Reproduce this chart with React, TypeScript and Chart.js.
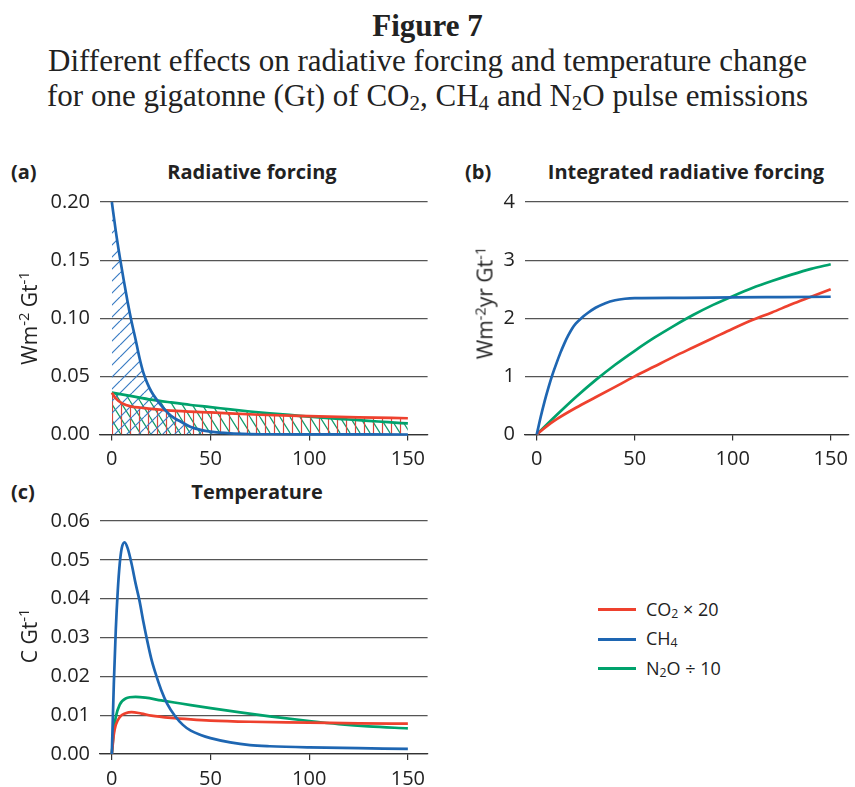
import React, { useEffect, useRef } from "react";
import { Chart, registerables } from "chart.js";
Chart.register(...registerables);

const FONT = "'Open Sans', 'Noto Sans', sans-serif";
const SERIF = "'Liberation Serif', 'DejaVu Serif', serif";

const RED = "#ee412e";
const BLUE = "#1e66b2";
const GREEN = "#00a26c";

const X_TICKS = [0, 50, 100, 150];

// (a) Radiative forcing (W m-2 Gt-1)
const rfCo2Years = [0, 2, 5, 10, 15, 20, 30, 50, 75, 100, 125, 150];
const rfCo2 = [0.036, 0.031, 0.027, 0.024, 0.023, 0.022, 0.0205, 0.019, 0.017, 0.0158, 0.0148, 0.014];
const rfCh4Years = [0, 2, 4, 6, 8, 10, 12, 14, 16, 18, 20, 25, 30, 35, 40, 45, 50, 60, 70, 80, 100, 150];
const rfCh4 = [0.2, 0.175, 0.153, 0.133, 0.114, 0.097, 0.082, 0.066, 0.053, 0.044, 0.037, 0.025, 0.016, 0.011, 0.0065, 0.004, 0.0025, 0.001, 0.0004, 0.0002, 0.0001, 0];
const rfN2oYears = [0, 10, 20, 30, 40, 50, 60, 70, 80, 90, 100, 110, 120, 130, 140, 150];
const rfN2o = [0.036, 0.033, 0.03, 0.0276, 0.0254, 0.0236, 0.0216, 0.0198, 0.0182, 0.0168, 0.0154, 0.014, 0.0129, 0.0118, 0.0106, 0.0095];

// (b) Integrated radiative forcing (W m-2 yr Gt-1)
const irfCo2Years = [0, 5, 10, 20, 30, 40, 50, 60, 70, 80, 90, 100, 110, 120, 130, 140, 150];
const irfCo2 = [0, 0.14, 0.26, 0.46, 0.64, 0.82, 1.0, 1.17, 1.34, 1.5, 1.66, 1.82, 1.97, 2.1, 2.24, 2.37, 2.5];
const irfCh4Years = [0, 2, 4, 6, 8, 10, 12, 14, 16, 18, 20, 23, 26, 30, 35, 40, 45, 50, 75, 100, 125, 150];
const irfCh4 = [0, 0.3, 0.57, 0.81, 1.03, 1.22, 1.4, 1.56, 1.7, 1.82, 1.91, 2.01, 2.09, 2.18, 2.26, 2.31, 2.335, 2.345, 2.35, 2.36, 2.365, 2.37];
const irfN2oYears = [0, 10, 20, 30, 40, 50, 60, 70, 80, 90, 100, 110, 120, 130, 140, 150];
const irfN2o = [0, 0.33, 0.645, 0.935, 1.2, 1.44, 1.665, 1.87, 2.06, 2.23, 2.38, 2.52, 2.64, 2.75, 2.85, 2.93];

// (c) Temperature (C Gt-1)
const tCo2Years = [0, 1, 2, 4, 7, 10, 15, 20, 30, 40, 50, 70, 100, 125, 150];
const tCo2 = [0, 0.005, 0.0075, 0.0095, 0.0105, 0.0108, 0.0104, 0.0099, 0.0093, 0.0089, 0.0086, 0.0083, 0.0081, 0.0079, 0.0078];
const tCh4Years = [0, 1, 2, 3, 4, 5, 6.5, 8, 10, 12, 14, 16, 18, 20, 22, 25, 28, 32, 36, 40, 45, 50, 60, 70, 80, 100, 125, 150];
const tCh4 = [0, 0.018, 0.032, 0.042, 0.049, 0.053, 0.0545, 0.053, 0.049, 0.044, 0.0395, 0.034, 0.029, 0.0245, 0.021, 0.0165, 0.013, 0.0098, 0.0075, 0.006, 0.0049, 0.0041, 0.003, 0.0023, 0.002, 0.0017, 0.0015, 0.0013];
const tN2oYears = [0, 1, 2, 4, 7, 12, 17, 25, 35, 50, 65, 80, 100, 115, 130, 150];
const tN2o = [0, 0.006, 0.0095, 0.0127, 0.0143, 0.0147, 0.0145, 0.0138, 0.013, 0.0118, 0.0107, 0.0097, 0.0085, 0.0077, 0.0071, 0.0066];

function toPoints(xs: number[], ys: number[]) {
  return xs.map((x, i) => ({ x, y: ys[i] }));
}

function makeHatch(color: string, kind: "fwd" | "back" | "vert"): CanvasPattern | string {
  const c = document.createElement("canvas");
  let w = 12;
  let h = 12;
  if (kind === "back") { w = 10; h = 16; }
  if (kind === "vert") { w = 9; h = 9; }
  c.width = w;
  c.height = h;
  const g = c.getContext("2d");
  if (!g) return color;
  g.strokeStyle = color;
  g.lineWidth = 1.2;
  g.beginPath();
  if (kind === "vert") {
    g.moveTo(w / 2, 0);
    g.lineTo(w / 2, h);
  } else {
    for (let k = -1; k <= 1; k++) {
      if (kind === "fwd") {
        g.moveTo(k * w, h);
        g.lineTo(k * w + w, 0);
      } else {
        g.moveTo(k * w, 0);
        g.lineTo(k * w + w, h);
      }
    }
  }
  g.stroke();
  const p = g.createPattern(c, "repeat");
  return p || color;
}

const PAD_TOP = 25;

type PanelProps = {
  left: number;
  top: number;
  width: number;
  height: number;
  padRight: number;
  xMax: number;
  xAxisHeight: number;
  yMax: number;
  yStep: number;
  yDecimals: number;
  build: () => any[];
};

function Panel(props: PanelProps) {
  const ref = useRef<HTMLCanvasElement>(null);
  useEffect(() => {
    if (!ref.current) return;
    const chart = new Chart(ref.current, {
      type: "line",
      data: { datasets: props.build() },
      options: {
        responsive: false,
        animation: false,
        layout: { padding: { top: PAD_TOP, right: props.padRight, bottom: 0, left: 0 } },
        plugins: {
          legend: { display: false },
          tooltip: { enabled: false },
          filler: { drawTime: "beforeDatasetsDraw", propagate: false },
        },
        elements: {
          point: { radius: 0 },
          line: { borderWidth: 2.7, cubicInterpolationMode: "monotone" },
        },
        scales: {
          x: {
            type: "linear",
            min: -6,
            max: props.xMax,
            afterBuildTicks: (s: any) => {
              s.ticks = X_TICKS.map((v) => ({ value: v }));
            },
            afterFit: (s: any) => {
              s.height = props.xAxisHeight;
            },
            grid: { drawOnChartArea: false, drawTicks: true, tickLength: 6, color: "#333", lineWidth: 1.2 },
            border: { display: true, color: "#333", width: 1.2 },
            ticks: { font: { family: FONT, size: 20 }, color: "#222", padding: 7, maxRotation: 0, autoSkip: false },
          },
          y: {
            type: "linear",
            min: 0,
            max: props.yMax,
            afterFit: (s: any) => {
              s.width = 100;
            },
            grid: {
              drawTicks: false,
              color: (ctx: any) => (ctx.tick && ctx.tick.value === 0 ? "#333" : "#555"),
              lineWidth: 1.2,
            },
            border: { display: false },
            ticks: {
              stepSize: props.yStep,
              font: { family: FONT, size: 20 },
              color: "#222",
              padding: 10,
              callback: (v: any) => Number(v).toFixed(props.yDecimals),
            },
          },
        },
      } as any,
    });
    return () => chart.destroy();
  }, []);
  return (
    <canvas
      ref={ref}
      width={props.width}
      height={props.height}
      style={{ position: "absolute", left: props.left, top: props.top, width: props.width, height: props.height }}
    />
  );
}

const lineDs = (label: string, color: string, xs: number[], ys: number[]) => ({
  label,
  data: toPoints(xs, ys),
  borderColor: color,
  backgroundColor: color,
  fill: false,
  clip: false,
});

const buildA = () => [
  { ...lineDs("CH4", BLUE, rfCh4Years, rfCh4), fill: "origin", backgroundColor: makeHatch("#3a7cc4", "fwd") },
  { ...lineDs("CO2 x 20", RED, rfCo2Years, rfCo2), fill: "origin", backgroundColor: makeHatch("#d9463d", "vert") },
  { ...lineDs("N2O / 10", GREEN, rfN2oYears, rfN2o), fill: "origin", backgroundColor: makeHatch("#139c6c", "back") },
];

const buildB = () => [
  lineDs("CH4", BLUE, irfCh4Years, irfCh4),
  lineDs("CO2 x 20", RED, irfCo2Years, irfCo2),
  lineDs("N2O / 10", GREEN, irfN2oYears, irfN2o),
];

const buildC = () => [
  lineDs("CH4", BLUE, tCh4Years, tCh4),
  lineDs("CO2 x 20", RED, tCo2Years, tCo2),
  lineDs("N2O / 10", GREEN, tN2oYears, tN2o),
];

const subStyle: React.CSSProperties = { fontSize: "0.68em", verticalAlign: "-0.18em", lineHeight: 0 };
const supStyle: React.CSSProperties = { fontSize: "0.7em", verticalAlign: "0.5em", lineHeight: 0 };

function Label({ left, top, width, align, children }: any) {
  return (
    <div
      style={{
        position: "absolute",
        left,
        top,
        width,
        textAlign: align,
        fontFamily: FONT,
        fontWeight: "bold",
        fontSize: 20,
        lineHeight: "20px",
        color: "#222",
        whiteSpace: "nowrap",
      }}
    >
      {children}
    </div>
  );
}

function YTitle({ cx, cy, children }: any) {
  return (
    <div
      style={{
        position: "absolute",
        left: cx,
        top: cy,
        transform: "translate(-50%, -50%) rotate(-90deg)",
        fontFamily: FONT,
        fontSize: 21,
        lineHeight: "21px",
        color: "#222",
        whiteSpace: "nowrap",
      }}
    >
      {children}
    </div>
  );
}

function LegendRow({ y, color, children }: any) {
  return (
    <>
      <div style={{ position: "absolute", left: 598, top: y - 1.5, width: 38, height: 3, background: color }} />
      <div
        style={{
          position: "absolute",
          left: 646,
          top: y - 9.6,
          fontFamily: FONT,
          fontSize: 18,
          lineHeight: "18px",
          color: "#222",
          whiteSpace: "nowrap",
        }}
      >
        {children}
      </div>
    </>
  );
}

export default function App() {
  return (
    <div style={{ position: "absolute", left: 0, top: 0, width: 855, height: 787, overflow: "hidden", background: "#fff" }}>
      <div
        style={{
          position: "absolute",
          left: 0,
          top: 8,
          width: 855,
          textAlign: "center",
          fontFamily: SERIF,
          fontSize: 31,
          lineHeight: "35px",
          color: "#222",
        }}
      >
        <div style={{ fontWeight: "bold" }}>Figure 7</div>
        <div>Different effects on radiative forcing and temperature change</div>
        <div>
          for one gigatonne (Gt) of CO<sub style={subStyle}>2</sub>, CH<sub style={subStyle}>4</sub> and N
          <sub style={subStyle}>2</sub>O pulse emissions
        </div>
      </div>

      <Label left={11} top={162} width={40} align="left">(a)</Label>
      <Label left={152} top={162} width={200} align="center">Radiative forcing</Label>
      <Label left={465} top={162} width={40} align="left">(b)</Label>
      <Label left={536} top={162} width={300} align="center">Integrated radiative forcing</Label>
      <Label left={11} top={482} width={40} align="left">(c)</Label>
      <Label left={157} top={482} width={200} align="center">Temperature</Label>

      <Panel
        left={0}
        top={202 - PAD_TOP}
        width={440}
        height={PAD_TOP + 232.5 + 45.5}
        padRight={12.4}
        xMax={160}
        xAxisHeight={45.5}
        yMax={0.2}
        yStep={0.05}
        yDecimals={2}
        build={buildA}
      />
      <Panel
        left={425}
        top={202 - PAD_TOP}
        width={430}
        height={PAD_TOP + 232.5 + 45.5}
        padRight={2.7}
        xMax={159}
        xAxisHeight={45.5}
        yMax={4}
        yStep={1}
        yDecimals={0}
        build={buildB}
      />
      <Panel
        left={0}
        top={521 - PAD_TOP}
        width={440}
        height={787 - (521 - PAD_TOP)}
        padRight={12.4}
        xMax={160}
        xAxisHeight={787 - 754}
        yMax={0.06}
        yStep={0.01}
        yDecimals={2}
        build={buildC}
      />

      <YTitle cx={28.5} cy={317.5}>
        Wm<sup style={supStyle}>-2</sup> Gt<sup style={supStyle}>-1</sup>
      </YTitle>
      <YTitle cx={484.5} cy={303}>
        Wm<sup style={supStyle}>-2</sup>yr Gt<sup style={supStyle}>-1</sup>
      </YTitle>
      <YTitle cx={28.5} cy={636}>
        C Gt<sup style={supStyle}>-1</sup>
      </YTitle>

      <LegendRow y={609.3} color={RED}>
        CO<sub style={subStyle}>2</sub> × 20
      </LegendRow>
      <LegendRow y={639} color={BLUE}>
        CH<sub style={subStyle}>4</sub>
      </LegendRow>
      <LegendRow y={668.7} color={GREEN}>
        N<sub style={subStyle}>2</sub>O ÷ 10
      </LegendRow>
    </div>
  );
}
